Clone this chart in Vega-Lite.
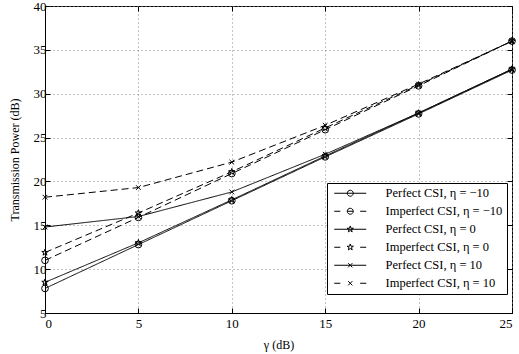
{
  "$schema": "https://vega.github.io/schema/vega-lite/v6.json",
  "autosize": "none",
  "width": 467,
  "height": 307,
  "padding": {"left": 45, "top": 6, "right": 7, "bottom": 41},
  "background": "white",
  "config": {
    "font": "Liberation Serif",
    "view": {"stroke": "black", "strokeWidth": 1},
    "axis": {
      "domainColor": "black",
      "tickColor": "black",
      "tickSize": -5,
      "labelFont": "Liberation Serif",
      "labelFontSize": 13,
      "labelColor": "black",
      "titleFont": "Liberation Serif",
      "titleFontSize": 12,
      "titleFontWeight": "normal",
      "titleColor": "black",
      "gridColor": "#888888",
      "gridDash": [1, 3],
      "gridWidth": 1,
      "gridOpacity": 1
    }
  },
  "data": {
    "values": [
      {"x": 0, "y": 7.8, "series": "Perfect CSI, η = −10", "csi": "Perfect"},
      {"x": 5, "y": 12.8, "series": "Perfect CSI, η = −10", "csi": "Perfect"},
      {"x": 10, "y": 17.8, "series": "Perfect CSI, η = −10", "csi": "Perfect"},
      {"x": 15, "y": 22.8, "series": "Perfect CSI, η = −10", "csi": "Perfect"},
      {"x": 20, "y": 27.7, "series": "Perfect CSI, η = −10", "csi": "Perfect"},
      {"x": 25, "y": 32.7, "series": "Perfect CSI, η = −10", "csi": "Perfect"},
      {"x": 0, "y": 11.0, "series": "Imperfect CSI, η = −10", "csi": "Imperfect"},
      {"x": 5, "y": 15.9, "series": "Imperfect CSI, η = −10", "csi": "Imperfect"},
      {"x": 10, "y": 20.9, "series": "Imperfect CSI, η = −10", "csi": "Imperfect"},
      {"x": 15, "y": 25.9, "series": "Imperfect CSI, η = −10", "csi": "Imperfect"},
      {"x": 20, "y": 30.9, "series": "Imperfect CSI, η = −10", "csi": "Imperfect"},
      {"x": 25, "y": 36.0, "series": "Imperfect CSI, η = −10", "csi": "Imperfect"},
      {"x": 0, "y": 8.5, "series": "Perfect CSI, η = 0", "csi": "Perfect"},
      {"x": 5, "y": 13.0, "series": "Perfect CSI, η = 0", "csi": "Perfect"},
      {"x": 10, "y": 17.9, "series": "Perfect CSI, η = 0", "csi": "Perfect"},
      {"x": 15, "y": 22.9, "series": "Perfect CSI, η = 0", "csi": "Perfect"},
      {"x": 20, "y": 27.8, "series": "Perfect CSI, η = 0", "csi": "Perfect"},
      {"x": 25, "y": 32.8, "series": "Perfect CSI, η = 0", "csi": "Perfect"},
      {"x": 0, "y": 11.9, "series": "Imperfect CSI, η = 0", "csi": "Imperfect"},
      {"x": 5, "y": 16.4, "series": "Imperfect CSI, η = 0", "csi": "Imperfect"},
      {"x": 10, "y": 21.1, "series": "Imperfect CSI, η = 0", "csi": "Imperfect"},
      {"x": 15, "y": 26.1, "series": "Imperfect CSI, η = 0", "csi": "Imperfect"},
      {"x": 20, "y": 31.0, "series": "Imperfect CSI, η = 0", "csi": "Imperfect"},
      {"x": 25, "y": 36.0, "series": "Imperfect CSI, η = 0", "csi": "Imperfect"},
      {"x": 0, "y": 14.8, "series": "Perfect CSI, η = 10", "csi": "Perfect"},
      {"x": 5, "y": 16.0, "series": "Perfect CSI, η = 10", "csi": "Perfect"},
      {"x": 10, "y": 18.8, "series": "Perfect CSI, η = 10", "csi": "Perfect"},
      {"x": 15, "y": 23.1, "series": "Perfect CSI, η = 10", "csi": "Perfect"},
      {"x": 20, "y": 27.8, "series": "Perfect CSI, η = 10", "csi": "Perfect"},
      {"x": 25, "y": 32.8, "series": "Perfect CSI, η = 10", "csi": "Perfect"},
      {"x": 0, "y": 18.2, "series": "Imperfect CSI, η = 10", "csi": "Imperfect"},
      {"x": 5, "y": 19.3, "series": "Imperfect CSI, η = 10", "csi": "Imperfect"},
      {"x": 10, "y": 22.2, "series": "Imperfect CSI, η = 10", "csi": "Imperfect"},
      {"x": 15, "y": 26.4, "series": "Imperfect CSI, η = 10", "csi": "Imperfect"},
      {"x": 20, "y": 31.1, "series": "Imperfect CSI, η = 10", "csi": "Imperfect"},
      {"x": 25, "y": 36.0, "series": "Imperfect CSI, η = 10", "csi": "Imperfect"}
    ]
  },
  "layer": [
    {
      "encoding": {
        "x": {
          "field": "x", "type": "quantitative",
          "scale": {"domain": [0, 25], "nice": false},
          "axis": {"values": [0, 5, 10, 15, 20, 25], "title": "γ (dB)", "labelPadding": 9, "titlePadding": 9}
        },
        "y": {
          "field": "y", "type": "quantitative",
          "scale": {"domain": [5, 40], "nice": false},
          "axis": {"values": [5, 10, 15, 20, 25, 30, 35, 40], "title": "Transmission Power (dB)", "labelPadding": 4, "titleX": -24}
        }
      },
      "layer": [
        {
          "mark": {"type": "line", "strokeWidth": 1},
          "encoding": {
            "detail": {"field": "series"},
            "strokeDash": {
              "field": "csi", "type": "nominal",
              "scale": {"domain": ["Perfect", "Imperfect"], "range": [[1, 0], [7, 4]]},
              "legend": null
            },
            "color": {
              "field": "series", "type": "nominal",
              "scale": {
                "domain": ["Perfect CSI, η = −10", "Imperfect CSI, η = −10", "Perfect CSI, η = 0", "Imperfect CSI, η = 0", "Perfect CSI, η = 10", "Imperfect CSI, η = 10"],
                "range": ["black", "black", "black", "black", "black", "black"]
              },
              "legend": {
                "title": null,
                "orient": "none",
                "legendX": 282,
                "legendY": 177,
                "fillColor": "white",
                "strokeColor": "black",
                "padding": 4,
                "labelFont": "Liberation Serif",
                "labelFontSize": 12.5,
                "labelColor": "black",
                "labelAlign": "left",
                "symbolSize": 36,
                "symbolOffset": 13,
                "symbolStrokeWidth": 1,
                "rowPadding": 5,
                "labelOffset": 29,
                "encoding": {
                  "symbols": {
                    "fill": {"value": "transparent"},
                    "stroke": {"value": "black"},
                    "shape": {"value": {"signal": "datum.value === 'Perfect CSI, η = −10' ? 'M-5.33,0H5.33M1,0A1,1 0 1,1 -1,0A1,1 0 1,1 1,0' : datum.value === 'Imperfect CSI, η = −10' ? 'M-5.33,0H-3.3M-1,0H1M3.3,0H5.33M1,0A1,1 0 1,1 -1,0A1,1 0 1,1 1,0' : datum.value === 'Perfect CSI, η = 0' ? 'M-5.33,0H5.33M0,-1.1L0.25,-0.34L1.05,-0.34L0.4,0.13L0.65,0.89L0,0.42L-0.65,0.89L-0.4,0.13L-1.05,-0.34L-0.25,-0.34Z' : datum.value === 'Imperfect CSI, η = 0' ? 'M-5.33,0H-3.3M3.3,0H5.33M0,-1.1L0.25,-0.34L1.05,-0.34L0.4,0.13L0.65,0.89L0,0.42L-0.65,0.89L-0.4,0.13L-1.05,-0.34L-0.25,-0.34Z' : datum.value === 'Perfect CSI, η = 10' ? 'M-5.33,0H5.33M-0.7,-0.7L0.7,0.7M-0.7,0.7L0.7,-0.7' : 'M-5.33,0H-3.3M3.3,0H5.33M-0.7,-0.7L0.7,0.7M-0.7,0.7L0.7,-0.7'"}}
                  }
                }
              }
            }
          }
        },
        {
          "mark": {"type": "point", "filled": false, "color": "black", "strokeWidth": 1, "size": 45, "opacity": 1},
          "encoding": {
            "shape": {
              "field": "series", "type": "nominal",
              "scale": {
                "domain": ["Perfect CSI, η = −10", "Imperfect CSI, η = −10", "Perfect CSI, η = 0", "Imperfect CSI, η = 0", "Perfect CSI, η = 10", "Imperfect CSI, η = 10"],
                "range": [
                  "circle", "circle",
                  "M0,-1L0.225,-0.309L0.951,-0.309L0.363,0.118L0.588,0.809L0,0.382L-0.588,0.809L-0.363,0.118L-0.951,-0.309L-0.225,-0.309Z",
                  "M0,-1L0.225,-0.309L0.951,-0.309L0.363,0.118L0.588,0.809L0,0.382L-0.588,0.809L-0.363,0.118L-0.951,-0.309L-0.225,-0.309Z",
                  "M-0.7,-0.7L0.7,0.7M-0.7,0.7L0.7,-0.7",
                  "M-0.7,-0.7L0.7,0.7M-0.7,0.7L0.7,-0.7"
                ]
              },
              "legend": null
            }
          }
        }
      ],
      "resolve": {
        "scale": {"shape": "independent", "color": "independent"},
        "legend": {"shape": "independent", "strokeDash": "independent", "color": "independent"}
      }
    },
    {
      "mark": {"type": "point", "opacity": 0},
      "encoding": {
        "x": {
          "field": "x", "type": "quantitative",
          "axis": {"orient": "top", "values": [0, 5, 10, 15, 20, 25], "labels": false, "title": null, "grid": false, "domain": false}
        },
        "y": {
          "field": "y", "type": "quantitative",
          "axis": {"orient": "right", "values": [5, 10, 15, 20, 25, 30, 35, 40], "labels": false, "title": null, "grid": false, "domain": false}
        }
      }
    }
  ],
  "resolve": {
    "axis": {"x": "independent", "y": "independent"}
  }
}
